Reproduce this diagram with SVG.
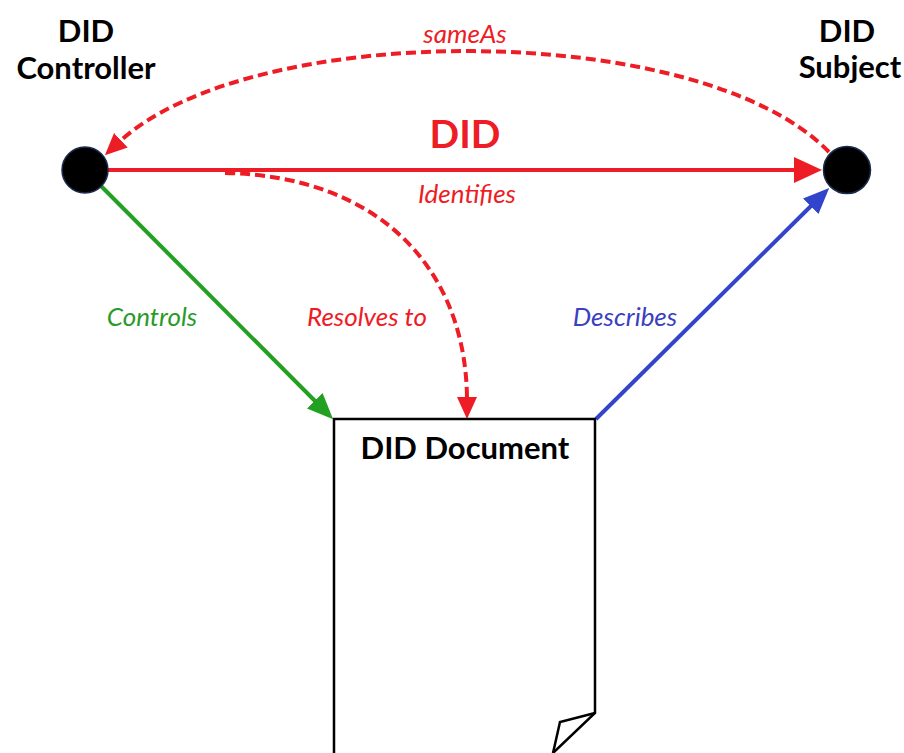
<svg xmlns="http://www.w3.org/2000/svg" width="904" height="753" viewBox="0 0 904 753">
<style>
  .lbl { font-family: Lato, "Open Sans", "Liberation Sans", sans-serif; text-anchor: middle; }
  .title { font-weight: bold; font-size: 31px; fill: #000; }
  .edge { font-style: italic; font-size: 26px; }
  .red { fill: #ee1c24; }
  .grn { fill: #2a9a2a; }
  .blu { fill: #3a40c0; }
  .node { fill: #000; stroke: #1c2c50; stroke-width: 1.5; }
  .dash { fill: none; stroke: #ee1c24; stroke-width: 4; stroke-dasharray: 10 5; }
</style>
<defs>
  <marker id="mRed" markerUnits="userSpaceOnUse" markerWidth="28" markerHeight="26" refX="6" refY="13" orient="auto" viewBox="0 0 28 26">
    <path d="M0,0 L28,13 L0,26 z" fill="#ee1c24"/>
  </marker>
  <marker id="mRedS" markerUnits="userSpaceOnUse" markerWidth="22" markerHeight="20" refX="4" refY="10" orient="auto" viewBox="0 0 22 20">
    <path d="M0,0 L22,10 L0,20 z" fill="#ee1c24"/>
  </marker>
  <marker id="mGrn" markerUnits="userSpaceOnUse" markerWidth="26" markerHeight="22" refX="6" refY="11" orient="auto" viewBox="0 0 26 22">
    <path d="M0,0 L26,11 L0,22 z" fill="#22a022"/>
  </marker>
  <marker id="mBlu" markerUnits="userSpaceOnUse" markerWidth="26" markerHeight="22" refX="6" refY="11" orient="auto" viewBox="0 0 26 22">
    <path d="M0,0 L26,11 L0,22 z" fill="#3344cc"/>
  </marker>
</defs>

<g id="connectors">
  <line id="e-did" x1="108" y1="170" x2="800" y2="170" stroke="#ee1c24" stroke-width="4" marker-end="url(#mRed)"/>
  <path id="e-sameas" class="dash" d="M829,152 C700,19 250,19 118,143" marker-end="url(#mRedS)"/>
  <path id="e-resolves" class="dash" d="M225,173 C380,176 467,270 467,401" marker-end="url(#mRedS)"/>
  <line id="e-controls" x1="101" y1="186" x2="319" y2="405" stroke="#22a022" stroke-width="4" marker-end="url(#mGrn)"/>
  <line id="e-describes" x1="596" y1="419" x2="815" y2="202" stroke="#3344cc" stroke-width="4" marker-end="url(#mBlu)"/>
</g>

<g id="controller">
  <circle class="node" cx="85" cy="170" r="23"/>
  <text class="lbl title" x="86" y="42">DID</text>
  <text class="lbl title" x="86" y="79">Controller</text>
</g>

<g id="subject">
  <circle class="node" cx="847" cy="170" r="23.5"/>
  <text class="lbl title" x="847" y="42">DID</text>
  <text class="lbl title" x="850" y="78">Subject</text>
</g>

<g id="document">
  <path d="M334,753 L334,419 L595,419 L595,713 L553,753" fill="#fff" stroke="#000" stroke-width="2.5" stroke-linejoin="miter"/>
  <path d="M595,713 L560,722 L553,753" fill="none" stroke="#000" stroke-width="2.5"/>
  <text class="lbl title" x="465" y="459">DID Document</text>
</g>

<g id="labels">
  <text class="lbl red" x="465" y="148" style="font-weight:bold;font-size:39px">DID</text>
  <text class="lbl edge red" x="467" y="203">Identifies</text>
  <text class="lbl edge red" x="465" y="43">sameAs</text>
  <text class="lbl edge grn" x="152" y="326">Controls</text>
  <text class="lbl edge red" x="367" y="326">Resolves to</text>
  <text class="lbl edge blu" x="625" y="326">Describes</text>
</g>
</svg>
